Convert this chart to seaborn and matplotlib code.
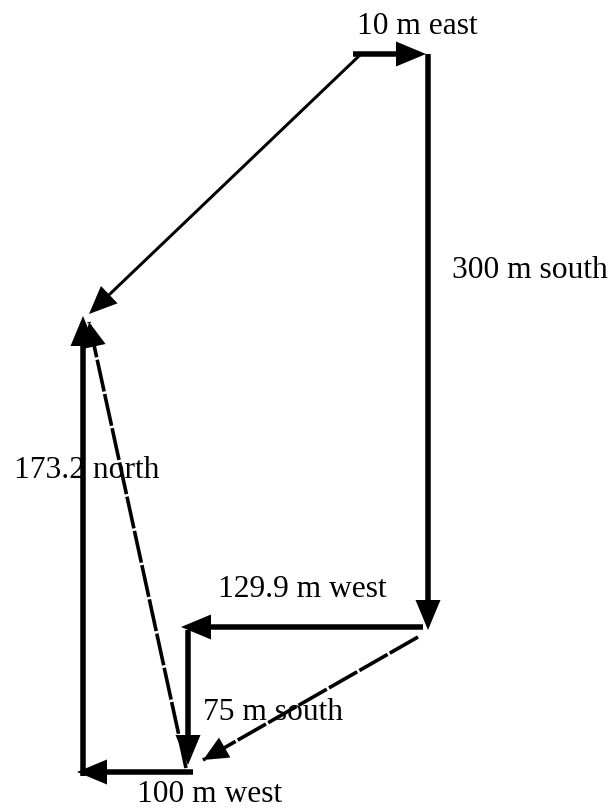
import matplotlib
matplotlib.use("Agg")
import matplotlib.pyplot as plt
import seaborn as sns

sns.set_theme(style="white")
plt.rcParams["font.family"] = ["Liberation Serif", "DejaVu Serif"]

# solid displacement arrows (diagram units = pixels)
solid_start_x = [353, 428, 423, 188, 193, 83]
solid_start_y = [54, 54, 627, 630, 772, 776]
solid_end_x = [426, 428, 181, 188, 77, 83]
solid_end_y = [54, 630, 627, 765, 772, 316]

# thin resultant arrow
thin_start = (360, 55)
thin_end = (89, 314)

# dashed arrows
dash_start_x = [418, 186]
dash_start_y = [637, 768]
dash_end_x = [203, 89]
dash_end_y = [760, 322]

labels = ["10 m east", "300 m south", "129.9 m west", "75 m south", "100 m west", "173.2 north"]
label_x = [417, 452, 218, 203, 137, 14]
label_y = [34, 278, 597, 720, 802, 478]
label_ha = ["center", "left", "left", "left", "left", "left"]

fig = plt.figure(figsize=(6.14, 8.10), dpi=100)
ax = fig.add_axes([0, 0, 1, 1])
ax.set_xlim(0, 614)
ax.set_ylim(810, 0)
ax.set_axis_off()

# dashed lines with heads
for x0, y0, x1, y1 in zip(dash_start_x, dash_start_y, dash_end_x, dash_end_y):
    sns.lineplot(x=[x0, x1], y=[y0, y1], ax=ax, color="black", lw=2.6,
                 linestyle=(0, (9, 0.7)), sort=False)
    ax.arrow(x0, y0, x1 - x0, y1 - y0, width=0.01, head_width=23, head_length=25,
             length_includes_head=True, color="black", lw=0, zorder=3)

# thin resultant
ax.arrow(thin_start[0], thin_start[1], thin_end[0] - thin_start[0], thin_end[1] - thin_start[1],
         width=3, head_width=24, head_length=28, length_includes_head=True,
         color="black", lw=0, zorder=4)

# solid thick arrows
for x0, y0, x1, y1 in zip(solid_start_x, solid_start_y, solid_end_x, solid_end_y):
    ax.arrow(x0, y0, x1 - x0, y1 - y0, width=5.5, head_width=25, head_length=30,
             length_includes_head=True, color="black", lw=0, zorder=5)

for t, x, y, ha in zip(labels, label_x, label_y, label_ha):
    ax.text(x, y, t, ha=ha, va="baseline", fontsize=22.7, color="black", zorder=6)

fig.savefig("out.png", dpi=100, facecolor="white")
